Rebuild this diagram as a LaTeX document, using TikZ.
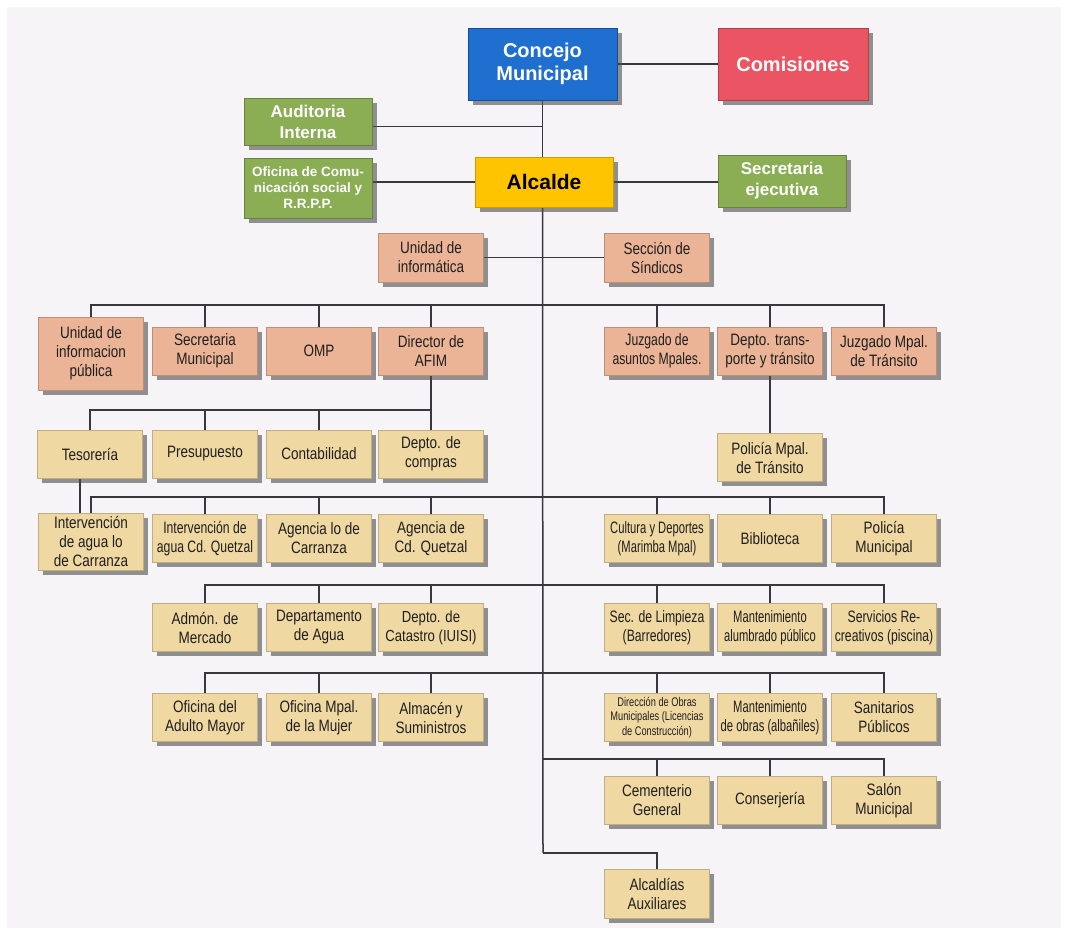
\documentclass[tikz,border=0pt]{standalone}
\usepackage{fontspec}
\setmainfont{Liberation Sans}[FakeStretch=0.82]
\newfontfamily\fB{Liberation Sans}[FakeStretch=0.74]
\newfontfamily\fC{Liberation Sans}[FakeStretch=0.68]
\newfontfamily\fT{Liberation Sans}
\usetikzlibrary{shadows,backgrounds}
\definecolor{bgc}{RGB}{246,244,246}
\definecolor{salm}{RGB}{235,180,150}
\definecolor{tanc}{RGB}{240,216,162}
\definecolor{grn}{RGB}{139,174,85}
\definecolor{blu}{RGB}{30,111,208}
\definecolor{rd}{RGB}{235,84,99}
\definecolor{yel}{RGB}{255,196,0}
\definecolor{linec}{RGB}{55,55,60}
\begin{document}
\begin{tikzpicture}[x=1pt,y=-1pt,
  box/.style={rectangle, inner sep=0pt, align=center, minimum width=105pt, minimum height=48pt,
    text=black!88, font=\fontsize{16.5}{19}\selectfont, line width=0.5pt,
    drop shadow={shadow xshift=4.5pt, shadow yshift=-4.5pt, fill=black!70, opacity=0.6}},
  salbox/.style={box, fill=salm, draw=salm!80!black},
  tanbox/.style={box, fill=tanc, draw=tanc!80!black},
  topbox/.style={box, text=white, font=\fT\bfseries\fontsize{20}{23}\selectfont},
  grnbox/.style={topbox, fill=grn, draw=grn!75!black, minimum width=128pt, font=\fT\bfseries\fontsize{17}{21}\selectfont},
  nb/.style={font=\fB\fontsize{16.5}{19}\selectfont},
  nc/.style={font=\fC\fontsize{16.5}{19}\selectfont},
  ln/.style={draw=linec, line width=1.5pt}
]
\begin{pgfonlayer}{background}
  \fill[white] (0,0) rectangle (1068,935);
  \fill[bgc] (7,7) rectangle (1061,928);
\end{pgfonlayer}

% top level
\node[topbox, fill=blu, draw=blu!70!black, minimum width=149pt, minimum height=72pt] (con) at (542.5,64) {Concejo\\Municipal};
\node[topbox, fill=rd, draw=rd!75!black, minimum width=150pt, minimum height=72pt] (com) at (793,64) {Comisiones};
\node[grnbox, minimum height=47pt] (aud) at (308,121.5) {Auditoria\\Interna};
\node[grnbox, minimum height=60pt, font=\fT\bfseries\fontsize{13.5}{16}\selectfont] (ofi) at (308,188) {Oficina de Comu-\\nicación social y\\R.R.P.P.};
\node[topbox, fill=yel, draw=yel!80!black, text=black, minimum width=138pt, minimum height=50pt, font=\fT\bfseries\fontsize{21}{24}\selectfont] (alc) at (544,182) {Alcalde};
\node[grnbox, minimum height=52pt] (sej) at (782,181) {Secretaria\\ejecutiva};

% row 0
\node[salbox, minimum height=49pt] (inf) at (431,257.5) {Unidad de\\informática};
\node[salbox, minimum height=49pt] (sin) at (657,257.5) {Sección de\\Síndicos};

% row 1
\node[salbox, minimum height=73pt] (uip) at (91,353.5) {Unidad de\\informacion\\pública};
\node[salbox] (smu) at (205,351) {Secretaria\\Municipal};
\node[salbox] (omp) at (319,351) {OMP};
\node[salbox] (afim) at (431,351) {Director de\\AFIM};
\node[salbox, nb] (jam) at (657,351) {Juzgado de\\asuntos Mpales.};
\node[salbox] (dtt) at (770,351) {Depto. trans-\\porte y tránsito};
\node[salbox] (jmt) at (884,351) {Juzgado Mpal.\\de Tránsito};

% row 2
\node[tanbox] (tes) at (90,454) {Tesorería};
\node[tanbox] (pre) at (205,454) {Presupuesto};
\node[tanbox] (cont) at (319,454) {Contabilidad};
\node[tanbox] (dco) at (431,454) {Depto. de\\compras};
\node[tanbox] (pmt) at (770,457.5) {Policía Mpal.\\de Tránsito};

% row 3
\node[tanbox, minimum height=57pt] (iac) at (91,541.5) {Intervención\\de agua lo\\de Carranza};
\node[tanbox, nb] (iaq) at (205,538.5) {Intervención de\\agua Cd. Quetzal};
\node[tanbox] (alo) at (319,538.5) {Agencia lo de\\Carranza};
\node[tanbox] (acq) at (431,538.5) {Agencia de\\Cd. Quetzal};
\node[tanbox, nc] (cyd) at (657,538.5) {Cultura y Deportes\\(Marimba Mpal)};
\node[tanbox] (bib) at (770,538.5) {Biblioteca};
\node[tanbox] (pmu) at (884,538.5) {Policía\\Municipal};

% row 4
\node[tanbox] (adm) at (205,627.5) {Admón. de\\Mercado};
\node[tanbox] (dag) at (319,627.5) {Departamento\\de Agua};
\node[tanbox, font=\fontsize{16}{19}\selectfont] (dca) at (431,627.5) {Depto. de\\Catastro (IUISI)};
\node[tanbox, nb] (slb) at (657,627.5) {Sec. de Limpieza\\(Barredores)};
\node[tanbox, nc] (map) at (770,627.5) {Mantenimiento\\alumbrado público};
\node[tanbox, nb] (srp) at (884,627.5) {Servicios Re-\\creativos (piscina)};

% row 5
\node[tanbox] (oam) at (205,717.5) {Oficina del\\Adulto Mayor};
\node[tanbox] (omm) at (319,717.5) {Oficina Mpal.\\de la Mujer};
\node[tanbox] (asu) at (431,717.5) {Almacén y\\Suministros};
\node[tanbox, font=\fB\fontsize{12.5}{14.5}\selectfont] (dom) at (657,717.5) {Dirección de Obras\\Municipales (Licencias\\de Construcción)};
\node[tanbox, nc] (moa) at (770,717.5) {Mantenimiento\\de obras (albañiles)};
\node[tanbox] (spu) at (884,717.5) {Sanitarios\\Públicos};

% row 6
\node[tanbox] (cge) at (657,800.5) {Cementerio\\General};
\node[tanbox] (cjr) at (770,800.5) {Conserjería};
\node[tanbox] (smn) at (884,800.5) {Salón\\Municipal};

% bottom
\node[tanbox, minimum height=49pt] (aux) at (657,893.5) {Alcaldías\\Auxiliares};

% bus coordinates
\coordinate (tk) at (543,853);
\coordinate (b1) at (543,305);
\coordinate (bA) at (431,410);
\coordinate (b3) at (543,497);
\coordinate (b4) at (543,585);
\coordinate (b5) at (543,673);
\coordinate (b6) at (543,759);

\begin{pgfonlayer}{background}
  % top
  \draw[ln] (con.east) -- (con.east -| com.west);
  \draw[ln] (con.south) -- (con.south |- alc.north);
  \draw[ln] ([yshift=-5pt]aud.east) -- ([yshift=-5pt]aud.east -| con.south);
  \draw[ln] (alc.west) -- (alc.west -| ofi.east);
  \draw[ln] (alc.east) -- (alc.east -| sej.west);
  \draw[ln] (con.south |- alc.south) -- (tk);
  \draw[ln] (inf.east) -- (sin.west);
  % row 1
  \draw[ln] (uip.north) -- (uip.north |- b1) -- (jmt.north |- b1) -- (jmt.north);
  \foreach \n in {smu,omp,afim,jam,dtt} \draw[ln] (\n.north) -- (\n.north |- b1);
  % AFIM branch
  \draw[ln] (afim.south) -- (dco.north);
  \draw[ln] (tes.north) -- (tes.north |- bA) -- (bA);
  \foreach \n in {pre,cont} \draw[ln] (\n.north) -- (\n.north |- bA);
  \draw[ln] (dtt.south) -- (pmt.north);
  \draw[ln] ([xshift=-10pt]tes.south) -- ([xshift=-10pt]tes.south |- iac.north);
  % row 3
  \draw[ln] (iac.north) -- (iac.north |- b3) -- (pmu.north |- b3) -- (pmu.north);
  \foreach \n in {iaq,alo,acq,cyd,bib} \draw[ln] (\n.north) -- (\n.north |- b3);
  % row 4
  \draw[ln] (adm.north) -- (adm.north |- b4) -- (srp.north |- b4) -- (srp.north);
  \foreach \n in {dag,dca,slb,map} \draw[ln] (\n.north) -- (\n.north |- b4);
  % row 5
  \draw[ln] (oam.north) -- (oam.north |- b5) -- (spu.north |- b5) -- (spu.north);
  \foreach \n in {omm,asu,dom,moa} \draw[ln] (\n.north) -- (\n.north |- b5);
  % row 6
  \draw[ln] (b6) -- (smn.north |- b6) -- (smn.north);
  \foreach \n in {cge,cjr} \draw[ln] (\n.north) -- (\n.north |- b6);
  % auxiliares
  \draw[ln] (tk) -- (aux.north |- tk) -- (aux.north);
\end{pgfonlayer}
\end{tikzpicture}
\end{document}
